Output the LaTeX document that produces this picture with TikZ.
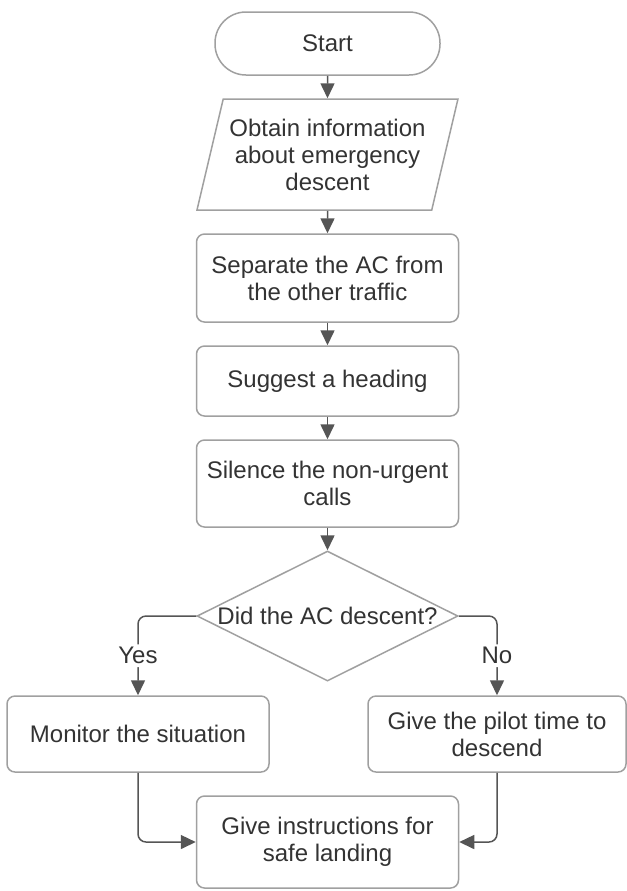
\documentclass[tikz,border=0pt]{standalone}
\usepackage{fontspec}
\setmainfont{Liberation Sans}
\usetikzlibrary{arrows.meta,positioning,shapes.geometric}
\definecolor{ink}{RGB}{51,51,51}
\definecolor{edge}{RGB}{160,160,160}
\definecolor{wire}{RGB}{85,85,85}
\tikzset{
  term/.style={draw=edge,line width=0.75pt,rounded corners=15.5pt,minimum width=112.5pt,
    minimum height=31.5pt,text=ink,align=center},
  io/.style={draw=edge,line width=0.75pt,trapezium,trapezium left angle=71,trapezium right angle=109,
    trapezium stretches=true,minimum width=130.5pt,minimum height=55.5pt,text=ink,align=center,inner sep=0pt},
  proc/.style={draw=edge,line width=0.75pt,rounded corners=4pt,minimum width=131pt,text=ink,align=center},
  dec/.style={draw=edge,line width=0.75pt,diamond,minimum width=130.5pt,minimum height=65pt,inner sep=0pt},
  arr/.style={-{Triangle[length=7.5pt,width=7pt]},line width=0.75pt,draw=wire},
  tag/.style={fill=white,text=ink,inner sep=1.5pt},
}

\begin{document}
\begin{tikzpicture}[node distance=11.25pt,font=\fontsize{12}{13.5}\selectfont]
  \fill[white] (0,0) rectangle (313.5pt,-445.5pt);
  \useasboundingbox (0,0) rectangle (313.5pt,-445.5pt);
  \node[term] (S) at (163.75pt,-21.75pt) {Start};
  \node[io,below=of S] (O) {Obtain information\\about emergency\\descent};
  \node[proc,minimum height=44pt,below=of O] (A) {Separate the AC from\\the other traffic};
  \node[proc,minimum height=35pt,below=of A] (H) {Suggest a heading};
  \node[proc,minimum height=43.5pt,below=of H] (Q) {Silence the non-urgent\\calls};
  \node[dec,below=of Q,label={[text=ink]center:Did the AC descent?}] (D) {};
  \node[proc,minimum height=38pt,below=6.75pt of D.south,xshift=-94.75pt] (M) {Monitor the situation};
  \node[proc,minimum height=38pt,minimum width=129pt,below=6.75pt of D.south,xshift=84.75pt] (T)
    {Give the pilot time to\\descend};
  \node[proc,minimum height=46pt,below=56.75pt of D] (F) {Give instructions for\\safe landing};
  % main column
  \draw[arr] (S) -- (O);
  \draw[arr] (O) -- (A);
  \draw[arr] (A) -- (H);
  \draw[arr] (H) -- (Q);
  \draw[arr] (Q) -- (D);
  % branches
  \draw[arr,rounded corners=4pt] (D.west) -| node[tag,pos=0.75]{Yes} (M.north);
  \draw[arr,rounded corners=4pt] (D.east) -| node[tag,pos=0.75]{No} (T.north);
  \draw[arr,rounded corners=4pt] (M.south) |- (F.west);
  \draw[arr,rounded corners=4pt] (T.south) |- (F.east);
\end{tikzpicture}
\end{document}
